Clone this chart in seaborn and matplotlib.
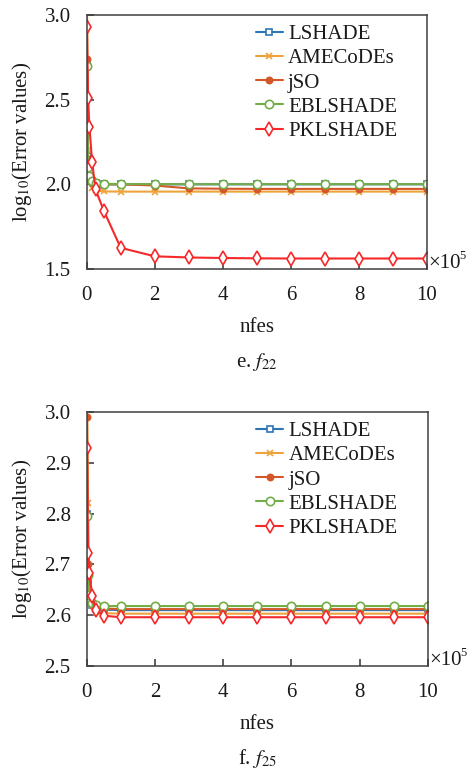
import numpy as np
import pandas as pd
import matplotlib
matplotlib.use("Agg")
import matplotlib.pyplot as plt
import matplotlib.transforms as mtransforms
import seaborn as sns

sns.set_theme(style="white")
plt.rcParams['font.family'] = ['Liberation Serif', 'DejaVu Serif']
plt.rcParams['mathtext.fontset'] = 'stix'

# ---------------- data ----------------
algorithms = ["LSHADE", "AMECoDEs", "jSO", "EBLSHADE", "PKLSHADE"]
nfes = [0.01, 0.04, 0.08, 0.16, 0.26, 0.5, 1, 2, 3, 4, 5, 6, 7, 8, 9, 10]  # x 1e5

# f22
f22_lshade   = [2.72, 2.17, 2.05, 2.02, 2.005, 2.0, 2.0, 2.0, 2.0, 2.0, 2.0, 2.0, 2.0, 2.0, 2.0, 2.0]
f22_amecodes = [3.05, 2.20, 2.02, 1.98, 1.965, 1.958, 1.957, 1.957, 1.957, 1.957, 1.957, 1.957, 1.957, 1.957, 1.957, 1.957]
f22_jso      = [2.74, 2.15, 2.04, 2.01, 2.003, 2.0, 2.0, 1.993, 1.976, 1.974, 1.973, 1.973, 1.973, 1.973, 1.973, 1.973]
f22_eblshade = [2.70, 2.10, 2.05, 2.02, 2.006, 2.003, 2.002, 2.001, 2.001, 2.001, 2.001, 2.001, 2.001, 2.001, 2.001, 2.001]
f22_pklshade = [2.93, 2.51, 2.34, 2.13, 1.97, 1.845, 1.625, 1.575, 1.568, 1.565, 1.563, 1.562, 1.562, 1.562, 1.562, 1.562]

# f25
f25_lshade   = [2.80, 2.67, 2.64, 2.62, 2.613, 2.611, 2.610, 2.610, 2.610, 2.610, 2.610, 2.610, 2.610, 2.610, 2.610, 2.610]
f25_amecodes = [3.05, 2.82, 2.65, 2.62, 2.607, 2.604, 2.603, 2.603, 2.603, 2.603, 2.603, 2.603, 2.603, 2.603, 2.603, 2.603]
f25_jso      = [2.99, 2.70, 2.64, 2.62, 2.615, 2.613, 2.612, 2.612, 2.612, 2.612, 2.612, 2.612, 2.612, 2.612, 2.612, 2.612]
f25_eblshade = [2.795, 2.68, 2.64, 2.625, 2.62, 2.618, 2.618, 2.618, 2.618, 2.618, 2.618, 2.618, 2.618, 2.618, 2.618, 2.618]
f25_pklshade = [2.93, 2.723, 2.684, 2.638, 2.61, 2.599, 2.596, 2.596, 2.596, 2.596, 2.596, 2.596, 2.596, 2.596, 2.596, 2.596]

xticks = [0, 2, 4, 6, 8, 10]
f22_yticks = [1.5, 2.0, 2.5, 3.0]
f25_yticks = [2.5, 2.6, 2.7, 2.8, 2.9, 3.0]

# ---------------- styles ----------------
styles = {
    "LSHADE":   dict(color="#2e75b6", marker="s", ms=4.5, mfc="white"),
    "AMECoDEs": dict(color="#eda33a", marker="x", ms=4.5, mfc="#eda33a"),
    "jSO":      dict(color="#d4572a", marker="o", ms=4.5, mfc="#d4572a"),
    "EBLSHADE": dict(color="#72ad47", marker="o", ms=6.0, mfc="white"),
    "PKLSHADE": dict(color="#f5282a", marker="d", ms=7.5, mfc="white"),
}

W, H = 469, 769
fig = plt.figure(figsize=(W / 100, H / 100), dpi=100)

def px_axes(left, top, right, bottom):
    return fig.add_axes([left / W, 1 - bottom / H, (right - left) / W, (bottom - top) / H])

ax1 = px_axes(86.7, 15, 427, 269)
ax2 = px_axes(86.7, 412, 428, 666)

panels = [
    (ax1, [f22_lshade, f22_amecodes, f22_jso, f22_eblshade, f22_pklshade], (1.5, 3.0), f22_yticks,
     ["1.5", "2.0", "2.5", "3.0"], r"e. $\mathit{f}_{22}$"),
    (ax2, [f25_lshade, f25_amecodes, f25_jso, f25_eblshade, f25_pklshade], (2.5, 3.0), f25_yticks,
     ["2.5", "2.6", "2.7", "2.8", "2.9", "3.0"], r"f. $\mathit{f}_{25}$"),
]

FS = 15
TXT = "#1a1a1a"
for ax, series, ylim, yticks, ylabels, sub in panels:
    for name, vals in zip(algorithms, series):
        st = styles[name]
        df = pd.DataFrame({"nfes": nfes, "val": vals})
        sns.lineplot(data=df, x="nfes", y="val", ax=ax, color=st["color"],
                     marker=st["marker"], markersize=st["ms"],
                     markerfacecolor=st["mfc"], markeredgecolor=st["color"],
                     markeredgewidth=1.2, linewidth=1.5, label=name,
                     sort=False, estimator=None, clip_on=True)
    ax.set_xlim(0, 10)
    ax.set_ylim(*ylim)
    ax.set_xticks(xticks)
    ax.set_xticklabels([str(t) for t in xticks])
    ax.set_yticks(yticks)
    ax.set_yticklabels(ylabels)
    ax.tick_params(axis="both", direction="in", length=5, width=1.1, colors="#333333",
                   labelsize=FS, labelcolor=TXT, left=True, bottom=True,
                   top=False, right=False)
    ax.tick_params(axis="x", pad=12.5)
    ax.tick_params(axis="y", pad=11.5)
    for sp in ax.spines.values():
        sp.set_color("#404040")
        sp.set_linewidth(1.1)
    ax.set_xlabel("nfes", fontsize=FS, color=TXT, labelpad=9)
    ax.set_ylabel(r"log$_{10}$(Error values)", fontsize=FS, color=TXT, labelpad=7.5)
    # x10^5 multiplier
    ax.text(1.003, 0.022, "×10", transform=ax.transAxes, ha="left", va="center",
            fontsize=FS, color=TXT)
    tr = mtransforms.offset_copy(ax.transAxes, fig=fig, x=22.3, y=5.0, units="points")
    ax.text(1.003, 0.022, "5", transform=tr, ha="left", va="center",
            fontsize=9.0, color=TXT)
    ax.text(0.5, -0.365, sub, transform=ax.transAxes, ha="center", va="center",
            fontsize=FS, color=TXT)
    leg = ax.legend(loc="upper left", bbox_to_anchor=(0.497, 0.962), frameon=False,
                    fontsize=FS, handlelength=1.3, handletextpad=0.25, labelspacing=0.22,
                    borderpad=0, borderaxespad=0)
    for t in leg.get_texts():
        t.set_color(TXT)

fig.savefig("out.png", dpi=100)
